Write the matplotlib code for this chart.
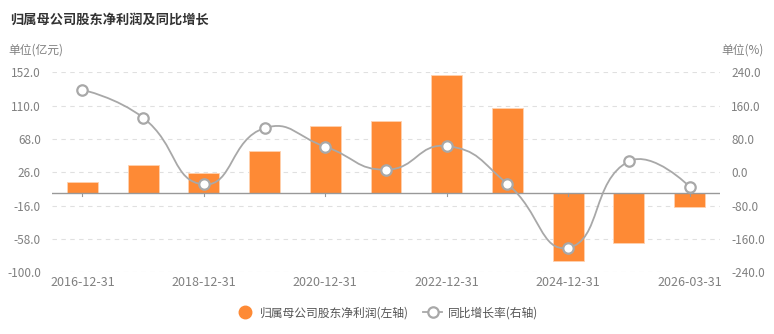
import numpy as np
import matplotlib
matplotlib.use("Agg")
import matplotlib.pyplot as plt
from matplotlib.path import Path
from matplotlib.patches import PathPatch
from matplotlib.lines import Line2D

plt.rcParams['font.family'] = ['Noto Sans CJK SC', 'DejaVu Sans']

dates = ["2016-12-31", "2017-12-31", "2018-12-31", "2019-12-31", "2020-12-31",
         "2021-12-31", "2022-12-31", "2023-12-31", "2024-12-31", "2025-12-31",
         "2026-03-31"]
profit = [14.2, 34.9, 24.8, 52.5, 84.8, 90.3, 148.2, 107.0, -85.6, -63.4, -18.0]
growth = [198.0, 131.0, -29.0, 106.0, 61.5, 6.3, 63.0, -28.0, -181.0, 26.4, -34.5]
left_ticks = [-100, -58, -16, 26, 68, 110, 152]
right_ticks = [-240, -160, -80, 0, 80, 160, 240]

orange = "#fe8a35"
gray_line = "#a8a8a8"
txt = "#808080"

fig = plt.figure(figsize=(7.74, 3.34), dpi=100)
ax = fig.add_axes([52/774, 1 - 272.3/334, 668/774, 200/334])
ax2 = ax.twinx()

x = np.arange(len(dates))
ax.bar(x, profit, width=0.51, color=orange, edgecolor="#ffd2b0", linewidth=0.6, zorder=2)
ax.set_xlim(-0.5, len(dates) - 0.5)
ax.set_ylim(-100, 152)
ax.set_yticks(left_ticks)
ax.set_yticklabels([f"{v:.1f}" for v in left_ticks])
for v in left_ticks:
    ax.axhline(v, color="#e0e0e0", lw=0.8, ls=(0, (4, 4)), zorder=0)
ax.axhline(0, color="#999999", lw=1, zorder=3)

ax.set_xticks(x[::2])
ax.set_xticklabels(dates[::2])
ax.tick_params(axis='x', length=0, colors=txt, labelsize=9, pad=3)
ax.tick_params(axis='y', length=0, colors=txt, labelsize=8.5, pad=8)
for s in ax.spines.values():
    s.set_visible(False)
for s in ax2.spines.values():
    s.set_visible(False)
# small tick marks hanging from the zero line
for xi in x[::2]:
    ax.plot([xi, xi], [0, -4], color="#999999", lw=0.8, zorder=3)

ax2.set_ylim(-240, 240)
ax2.set_yticks(right_ticks)
ax2.set_yticklabels([f"{v:.1f}" for v in right_ticks])
ax2.tick_params(axis='y', length=0, colors=txt, labelsize=8.5, pad=8)

# smooth line (echarts style bezier), computed in pixel space
sx, sy = 668 / len(dates), 200 / 480
px = x * sx
py = np.array(growth) * sy
smooth = 0.5
verts = [(px[0], py[0])]
codes = [Path.MOVETO]
cp = (px[0], py[0])
n = len(px)
for i in range(1, n):
    xc, yc = px[i], py[i]
    if i + 1 < n:
        vx = px[i + 1] - px[i - 1]
        vy = py[i + 1] - py[i - 1]
        l0 = np.hypot(xc - px[i - 1], yc - py[i - 1])
        l1 = np.hypot(px[i + 1] - xc, py[i + 1] - yc)
        r = l1 / (l0 + l1)
        ncp = (xc - vx * smooth * (1 - r), yc - vy * smooth * (1 - r))
    else:
        vx = vy = 0
        r = 0.5
        ncp = (xc, yc)
    verts += [cp, ncp, (xc, yc)]
    codes += [Path.CURVE4] * 3
    cp = (xc + vx * smooth * r, yc + vy * smooth * r)
verts = [(vx_ / sx, vy_ / sy) for vx_, vy_ in verts]
ax2.add_patch(PathPatch(Path(verts, codes), fill=False, edgecolor=gray_line, lw=1.3, zorder=3))
ax2.plot(x, growth, ls='none', marker='o', ms=7.5, mfc='white', mec=gray_line, mew=1.6, zorder=4)

fig.text(10/774, 1 - 20/334, "归属母公司股东净利润及同比增长", fontsize=9.5, fontweight='bold',
         color="#333333", va='center', ha='left')
fig.text(8/774, 1 - 50/334, "单位(亿元)", fontsize=8.5, color=txt, va='center', ha='left')
fig.text(764/774, 1 - 50/334, "单位(%)", fontsize=8.5, color=txt, va='center', ha='right')

handles = [
    Line2D([], [], ls='none', marker='o', ms=9, mfc=orange, mec=orange),
    Line2D([], [], color=gray_line, lw=1.3, marker='o', ms=7.5, mfc='white', mec=gray_line, mew=1.6),
]
fig.legend(handles, ["归属母公司股东净利润(左轴)", "同比增长率(右轴)"], loc='center',
           bbox_to_anchor=(0.5, 1 - 313/334), ncol=2, frameon=False, fontsize=8.5,
           labelcolor="#555555", handlelength=1.6, handletextpad=0.5, columnspacing=1.2)

fig.savefig("out.png", dpi=100)
